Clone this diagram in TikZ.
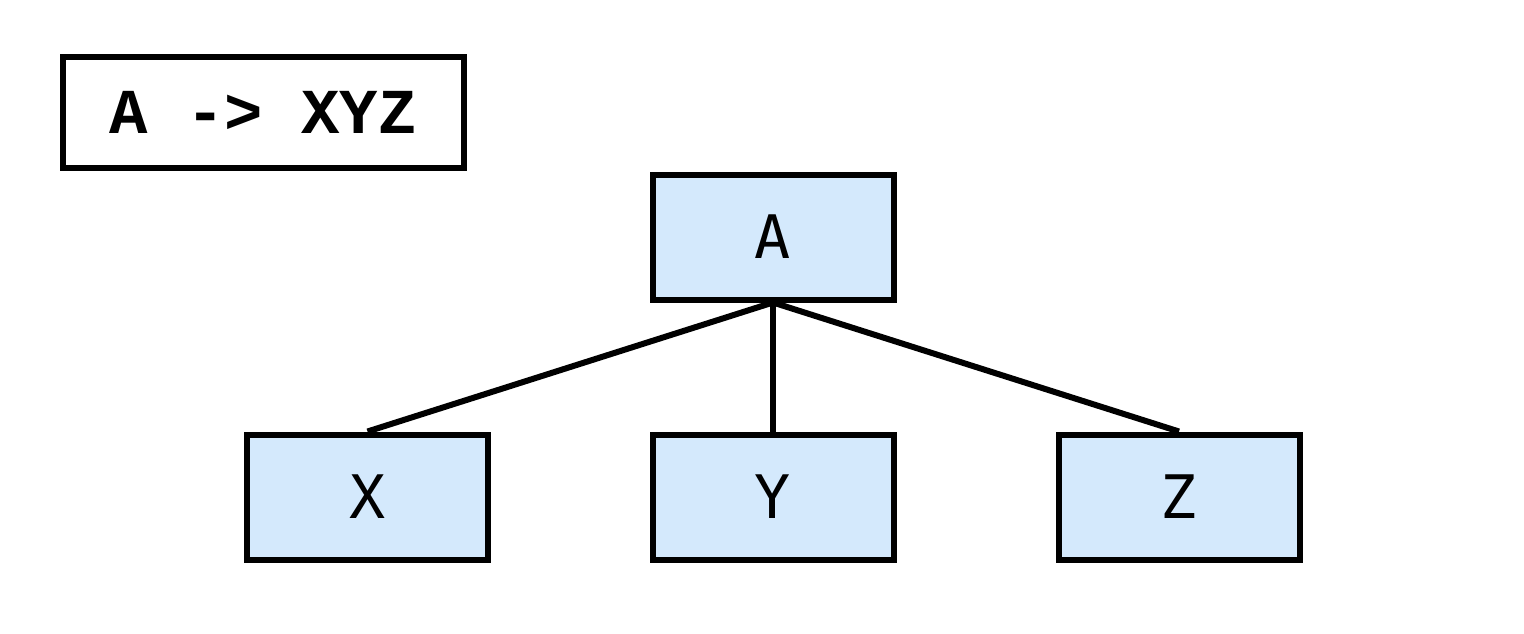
\documentclass[tikz,border=0pt]{standalone}
\usepackage{fontspec}
\setmainfont{DejaVu Sans Mono}
\newfontfamily\rulefont{Liberation Mono}
\definecolor{nodeblue}{HTML}{D4E9FC}
\begin{document}
\begin{tikzpicture}[x=1pt,y=-1pt,
  box/.style={draw=black,line width=6pt,fill=nodeblue,minimum width=241pt,minimum height=125pt,inner sep=0pt,font=\fontsize{60}{60}\selectfont},
  edge/.style={line width=6pt}]
\useasboundingbox (0,0) rectangle (1524,634);
\node[draw=black,line width=6pt,minimum width=401pt,minimum height=110pt,inner sep=0pt,font=\rulefont\bfseries\fontsize{64}{64}\selectfont] (rule) at (263,112.5) {A -> XYZ};
\node[box] (A) at (773,237) {A};
\node[box] (X) at (367.5,497) {X};
\node[box] (Y) at (773,497) {Y};
\node[box] (Z) at (1179,497) {Z};
\draw[edge] (A.south) -- (X.north);
\draw[edge] (A.south) -- (Y.north);
\draw[edge] (A.south) -- (Z.north);
\end{tikzpicture}
\end{document}
